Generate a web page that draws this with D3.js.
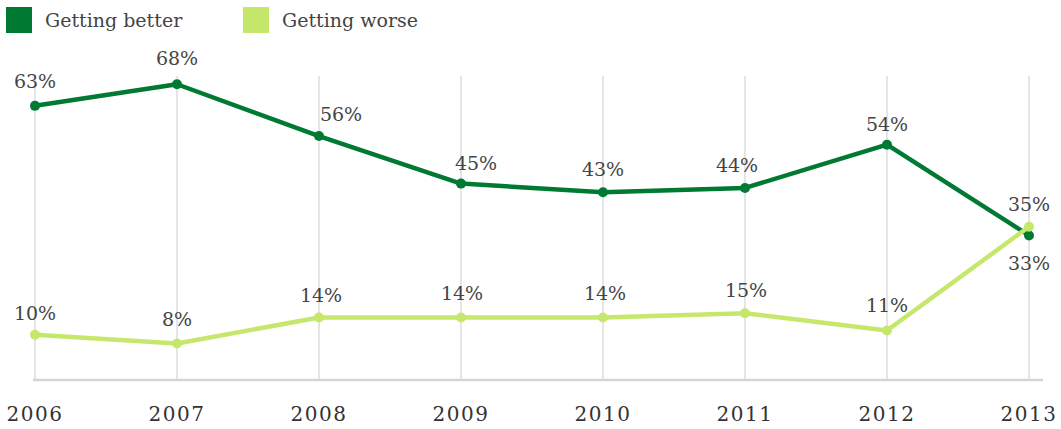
<!DOCTYPE html>
<html>
<head>
<meta charset="utf-8">
<script src="https://cdn.jsdelivr.net/npm/d3@7"></script>
<style>
  body { margin: 0; background: #fff; }
  text { font-family: "DejaVu Serif", serif; fill: #444; }
</style>
</head>
<body>
<svg id="chart" width="1061" height="429"></svg>
<script>
const years = ["2006", "2007", "2008", "2009", "2010", "2011", "2012", "2013"];
const better = [63, 68, 56, 45, 43, 44, 54, 33];
const worse = [10, 8, 14, 14, 14, 15, 11, 35];
const seriesNames = ["Getting better", "Getting worse"];
const colors = ["#007a33", "#c5e86c"];

const svg = d3.select("#chart");

const x = d3.scalePoint()
    .domain(years)
    .range([35, 1029]);

const y = d3.scaleLinear()
    .domain([0, 70])
    .range([378, 75.6]);

// gridlines
svg.append("g")
    .selectAll("line")
    .data(years)
    .join("line")
    .attr("x1", d => x(d))
    .attr("x2", d => x(d))
    .attr("y1", 76)
    .attr("y2", 380)
    .style("stroke", "#dcdcdc")
    .style("stroke-width", 1.5);

// baseline
svg.append("line")
    .attr("x1", 33).attr("x2", 1043)
    .attr("y1", 380).attr("y2", 380)
    .style("stroke", "#d6d6d0")
    .style("stroke-width", 2.5);

// year labels
svg.append("g")
    .selectAll("text")
    .data(years)
    .join("text")
    .attr("x", d => x(d))
    .attr("y", 421)
    .attr("text-anchor", "middle")
    .style("font-size", "20px")
    .style("letter-spacing", "1.5px")
    .style("fill", "#333")
    .text(d => d);

const line = d3.line()
    .x((d, i) => x(years[i]))
    .y(d => y(d));

// label nudges (dx, dy relative to point) so text does not sit on the line
const nudgeBetter = [[0, -18], [0, -19], [22, -15], [15, -14], [0, -16], [-8, -16], [0, -14], [0, 35]];
const nudgeWorse = [[0, -15], [0, -17], [2, -16], [1, -18], [2, -18], [1, -16], [0, -18], [0, -16]];

[better, worse].forEach((vals, s) => {
    const g = svg.append("g");
    g.append("path")
        .attr("d", line(vals))
        .style("fill", "none")
        .style("stroke", colors[s])
        .style("stroke-width", 4.5)
        .style("stroke-linejoin", "round");

    g.selectAll("circle")
        .data(vals)
        .join("circle")
        .attr("cx", (d, i) => x(years[i]))
        .attr("cy", d => y(d))
        .attr("r", 5)
        .style("fill", colors[s]);
});

// value labels drawn after both lines
[[better, nudgeBetter], [worse, nudgeWorse]].forEach(([vals, nudge]) => {
    svg.append("g")
        .selectAll("text")
        .data(vals)
        .join("text")
        .attr("x", (d, i) => x(years[i]) + nudge[i][0])
        .attr("y", (d, i) => y(d) + nudge[i][1])
        .attr("text-anchor", "middle")
        .style("font-size", "19px")
        .text(d => d + "%");
});

// legend
const legend = svg.append("g")
    .selectAll("g")
    .data(seriesNames)
    .join("g")
    .attr("transform", (d, i) => `translate(${i === 0 ? 6 : 243},7)`);

legend.append("rect")
    .attr("width", 26)
    .attr("height", 26)
    .style("fill", (d, i) => colors[i]);

legend.append("text")
    .attr("x", 39)
    .attr("y", 20)
    .style("font-size", "19px")
    .text(d => d);
</script>
</body>
</html>
